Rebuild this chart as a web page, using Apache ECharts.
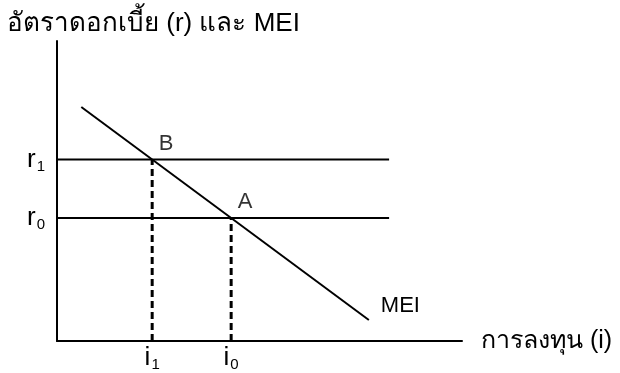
<!DOCTYPE html>
<html>
<head>
<meta charset="utf-8">
<script src="https://cdn.jsdelivr.net/npm/echarts@6/dist/echarts.min.js"></script>
<style>
  html, body { margin: 0; padding: 0; background: #fff; }
  #chart { width: 620px; height: 373px; }
</style>
</head>
<body>
<div id="chart"></div>
<script>
// MEI curve end points (x = investment, y = interest rate)
const meiPoints = [[6, 78], [77, 7]];
// interest rate levels r1, r0
const rateNames = ["1", "0"];
const rateLevels = [60.5, 41];
// investment levels i1, i0
const investNames = ["1", "0"];
const investLevels = [23.5, 43];
// intersection points
const pointNames = ["B", "A"];
const pointX = [23.5, 43];
const pointY = [60.5, 41];
const rateLineEnd = 82;

const FONT = "'Liberation Sans', Arial, 'Noto Sans', sans-serif";
const chart = echarts.init(document.getElementById("chart"));

const series = [];

rateLevels.forEach((r) => {
  series.push({
    type: "line",
    data: [[0, r], [rateLineEnd, r]],
    symbol: "none",
    silent: true,
    lineStyle: { color: "#000", width: 2 },
  });
});

investLevels.forEach((v, k) => {
  series.push({
    type: "line",
    data: [[v, 0], [v, rateLevels[k]]],
    symbol: "none",
    silent: true,
    lineStyle: { color: "#000", width: 3, type: [7, 4] },
  });
});

series.push({
  type: "line",
  data: meiPoints,
  symbol: "none",
  silent: true,
  lineStyle: { color: "#000", width: 2 },
  endLabel: {
    show: true,
    formatter: "MEI",
    color: "#000",
    fontFamily: FONT,
    fontSize: 22,
    offset: [4, -14],
  },
});

series.push({
  type: "scatter",
  data: pointNames.map((n, k) => ({ name: n, value: [pointX[k], pointY[k]] })),
  symbolSize: 1,
  itemStyle: { color: "transparent" },
  label: {
    show: true,
    formatter: "{b}",
    position: "right",
    offset: [1, -16],
    color: "#000",
    fontFamily: FONT,
    fontSize: 22,
  },
});

const subRich = {
  m: { fontSize: 26, color: "#000", fontFamily: FONT },
  s: { fontSize: 15, color: "#000", fontFamily: FONT, padding: [14, 0, 0, 1] },
};

chart.setOption({
  animation: false,
  title: {
    text: "อัตราดอกเบี้ย (r) และ MEI",
    left: 2,
    top: 6,
    textStyle: { color: "#000", fontSize: 26, fontWeight: "normal", fontFamily: FONT },
  },
  grid: { left: 57, top: 41, right: 158, bottom: 32 },
  xAxis: {
    type: "value",
    min: 0,
    max: 100,
    name: "การลงทุน (i)",
    nameLocation: "end",
    nameGap: 19,
    nameTextStyle: { color: "#000", fontSize: 25, fontFamily: FONT, padding: [0, 0, 4, 0] },
    splitLine: { show: false },
    axisTick: { show: false },
    axisLine: { lineStyle: { color: "#000", width: 2 } },
    axisLabel: {
      customValues: investLevels,
      margin: 2,
      formatter: (v) => "{m|i}{s|" + investNames[investLevels.indexOf(v)] + "}",
      rich: subRich,
    },
  },
  yAxis: {
    type: "value",
    min: 0,
    max: 100,
    splitLine: { show: false },
    axisTick: { show: false },
    axisLine: { lineStyle: { color: "#000", width: 2 } },
    axisLabel: {
      customValues: rateLevels,
      margin: 12,
      formatter: (v) => "{m|r}{s|" + rateNames[rateLevels.indexOf(v)] + "}",
      rich: subRich,
    },
  },
  series,
});
</script>
</body>
</html>
